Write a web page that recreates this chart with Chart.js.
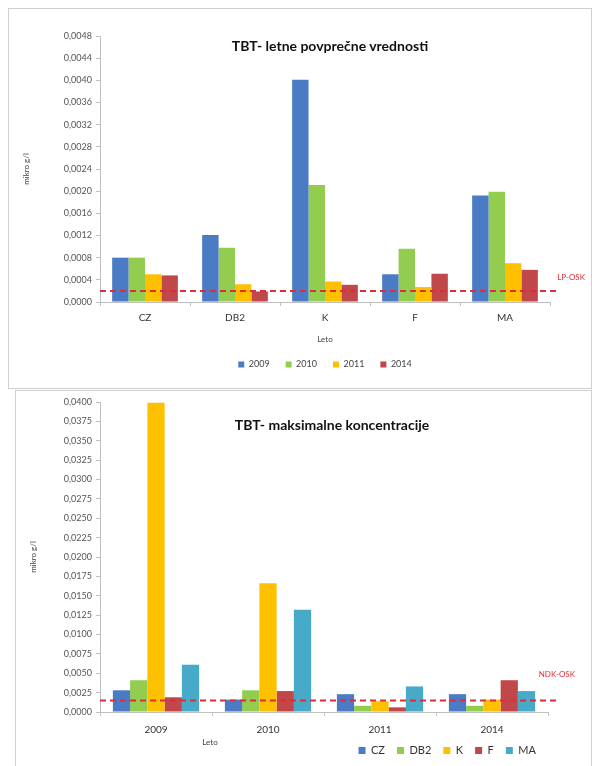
<!DOCTYPE html>
<html>
<head>
<meta charset="utf-8">
<script src="https://cdn.jsdelivr.net/npm/chart.js@4.4.1/dist/chart.umd.min.js"></script>
<style>
  html, body { margin: 0; padding: 0; background: #fff; }
  body { width: 592px; height: 766px; position: relative; overflow: hidden; font-family: Lato, 'Open Sans', sans-serif; }
  .box { position: absolute; border: 1px solid #cfcfcf; background: #fff; }
  .box canvas { display: block; }
  .title { position: absolute; font-weight: bold; font-size: 14px; color: #111; white-space: nowrap; transform: translate(-50%, -50%); }
  .xtitle { position: absolute; font-size: 8px; color: #444; transform: translate(-50%, -50%); }
</style>
</head>
<body>
<div class="box" style="left:8px; top:8px; width:582px; height:379px;">
  <canvas id="avgChart" width="582" height="379"></canvas>
</div>
<div class="box" style="left:15px; top:390px; width:575px; height:377px;">
  <canvas id="maxChart" width="575" height="375"></canvas>
</div>
<div class="title" style="left:330px; top:45px;">TBT- letne povprečne vrednosti</div>
<div class="title" style="left:332px; top:424px;">TBT- maksimalne koncentracije</div>
<div class="xtitle" style="left:210px; top:742px;">Leto</div>

<script>
// --- top chart: annual averages ---
const avgSites = ['CZ', 'DB2', 'K', 'F', 'MA'];
const avgYears = ['2009', '2010', '2011', '2014'];
const avg2009 = [0.00080, 0.00121, 0.00401, 0.00050, 0.00192];
const avg2010 = [0.00080, 0.00098, 0.00211, 0.00096, 0.00199];
const avg2011 = [0.00050, 0.00032, 0.00037, 0.00027, 0.00070];
const avg2014 = [0.00048, 0.00019, 0.00031, 0.00051, 0.00058];
const avgTicks = [0, 0.0004, 0.0008, 0.0012, 0.0016, 0.0020, 0.0024, 0.0028, 0.0032, 0.0036, 0.0040, 0.0044, 0.0048];
const lpOsk = 0.0002;

// --- bottom chart: maximum concentrations ---
const maxYears = ['2009', '2010', '2011', '2014'];
const maxSites = ['CZ', 'DB2', 'K', 'F', 'MA'];
const maxCZ = [0.0028, 0.0016, 0.0023, 0.0023];
const maxDB2 = [0.0041, 0.0028, 0.0008, 0.0008];
const maxK = [0.0399, 0.0166, 0.0014, 0.0016];
const maxF = [0.0019, 0.0027, 0.0006, 0.0041];
const maxMA = [0.0061, 0.0132, 0.0033, 0.0027];
const maxTicks = [0, 0.0025, 0.0050, 0.0075, 0.0100, 0.0125, 0.0150, 0.0175, 0.0200, 0.0225, 0.0250, 0.0275, 0.0300, 0.0325, 0.0350, 0.0375, 0.0400];
const ndkOsk = 0.0015;

const BLUE = '#4A7BC4', GREEN = '#92CD4F', YELLOW = '#FFC000', RED = '#C0474A', AQUA = '#46AAC8';
const FONT = 'Lato';

const fmt = v => v.toFixed(4).replace('.', ',');

// dashed limit line + red label, placed via the y scale
const thresholdLine = {
    id: 'thresholdLine',
    afterDatasetsDraw(chart, args, opts) {
        const { ctx, chartArea } = chart;
        const y = chart.scales.y.getPixelForValue(opts.value);
        ctx.save();
        ctx.strokeStyle = '#E02C36';
        ctx.lineWidth = 2;
        ctx.setLineDash([6, 4]);
        ctx.beginPath();
        ctx.moveTo(chartArea.left, y);
        ctx.lineTo(chartArea.right + opts.extend, y);
        ctx.stroke();
        ctx.setLineDash([]);
        ctx.fillStyle = '#E02C36';
        ctx.font = '8px ' + FONT;
        ctx.textAlign = 'right';
        ctx.textBaseline = 'middle';
        ctx.fillText(opts.label, chartArea.right + opts.labelDx, y + opts.labelDy);
        ctx.restore();
    }
};

function barSet(label, data, color) {
    return { label: label, data: data, backgroundColor: color, borderWidth: 0, barPercentage: 1.0 };
}

function yAxis(ticks, title, width) {
    return {
        min: ticks[0], max: ticks[ticks.length - 1],
        afterBuildTicks: s => { s.ticks = ticks.map(v => ({ value: v })); },
        afterFit: s => { s.width = width; },
        border: { color: '#BFBFBF' },
        grid: { drawOnChartArea: false, drawTicks: true, tickLength: 4, color: '#BFBFBF' },
        ticks: { autoSkip: false, color: '#555', font: { size: 9, family: FONT }, padding: 4, callback: v => fmt(v) },
        title: { display: true, text: title, color: '#444', font: { size: 8, family: FONT }, padding: 4 }
    };
}

new Chart(document.getElementById('avgChart'), {
    type: 'bar',
    data: {
        labels: avgSites,
        datasets: [
            barSet(avgYears[0], avg2009, BLUE),
            barSet(avgYears[1], avg2010, GREEN),
            barSet(avgYears[2], avg2011, YELLOW),
            barSet(avgYears[3], avg2014, RED)
        ]
    },
    options: {
        responsive: false,
        animation: false,
        devicePixelRatio: 1,
        datasets: { bar: { categoryPercentage: 0.73 } },
        layout: { padding: { left: 9, right: 41, top: 27, bottom: 9 } },
        plugins: {
            legend: {
                position: 'bottom', fullSize: false,
                labels: { boxWidth: 6, boxHeight: 6, padding: 16, color: '#444', font: { size: 9, family: FONT } }
            },
            tooltip: { enabled: false },
            thresholdLine: { value: lpOsk, label: 'LP-OSK', extend: 10, labelDx: 35, labelDy: -13 }
        },
        scales: {
            x: {
                afterFit: s => { s.height = 42; },
                border: { color: '#BFBFBF' },
                grid: { drawOnChartArea: false, drawTicks: true, tickLength: 4, color: '#BFBFBF' },
                ticks: { color: '#333', font: { size: 10, family: FONT }, padding: 6 },
                title: { display: true, text: 'Leto', color: '#444', font: { size: 8, family: FONT }, padding: { top: 4, bottom: 0 } }
            },
            y: yAxis(avgTicks, 'mikro g/l', 82)
        }
    },
    plugins: [thresholdLine]
});

new Chart(document.getElementById('maxChart'), {
    type: 'bar',
    data: {
        labels: maxYears,
        datasets: [
            barSet(maxSites[0], maxCZ, BLUE),
            barSet(maxSites[1], maxDB2, GREEN),
            barSet(maxSites[2], maxK, YELLOW),
            barSet(maxSites[3], maxF, RED),
            barSet(maxSites[4], maxMA, AQUA)
        ]
    },
    options: {
        responsive: false,
        animation: false,
        devicePixelRatio: 1,
        datasets: { bar: { categoryPercentage: 0.77 } },
        layout: { padding: { left: 9, right: 43, top: 11, bottom: 0 } },
        plugins: {
            legend: {
                position: 'bottom', align: 'end', fullSize: false,
                labels: { boxWidth: 7, boxHeight: 7, padding: 12, color: '#333', font: { size: 11, family: FONT } }
            },
            tooltip: { enabled: false },
            thresholdLine: { value: ndkOsk, label: 'NDK-OSK', extend: 10, labelDx: 27, labelDy: -26 }
        },
        scales: {
            x: {
                afterFit: s => { s.height = 21; },
                border: { color: '#BFBFBF' },
                grid: { drawOnChartArea: false, drawTicks: true, tickLength: 4, color: '#BFBFBF' },
                ticks: { color: '#333', font: { size: 10, family: FONT }, padding: 8 }
            },
            y: yAxis(maxTicks, 'mikro g/l', 75)
        }
    },
    plugins: [thresholdLine]
});
</script>
</body>
</html>
